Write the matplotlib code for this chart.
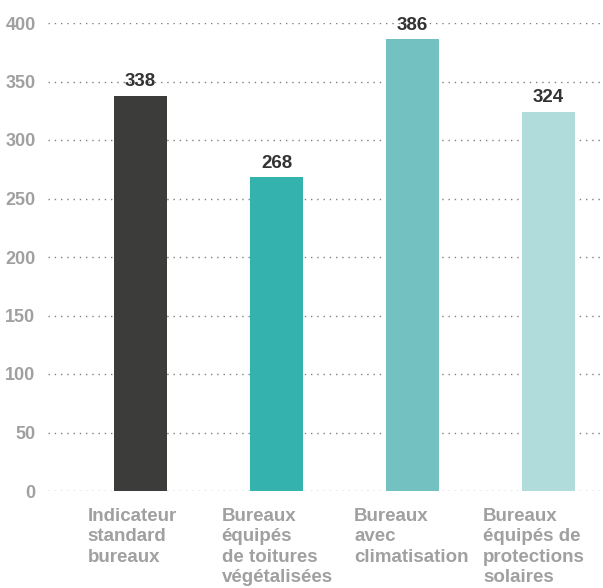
import matplotlib
matplotlib.use("Agg")
import matplotlib.pyplot as plt
from matplotlib.transforms import ScaledTranslation, blended_transform_factory

categories = [
    "Indicateur\nstandard\nbureaux",
    "Bureaux\néquipés\nde toitures\nvégétalisées",
    "Bureaux\navec\nclimatisation",
    "Bureaux\néquipés de\nprotections\nsolaires",
]
values = [338, 268, 386, 324]
colors = ["#3c3c3b", "#33b2ae", "#74c1c1", "#b0dcdb"]
yticks = [0, 50, 100, 150, 200, 250, 300, 350, 400]

plt.rcParams["font.family"] = ["Liberation Sans", "DejaVu Sans"]
plt.rcParams["font.weight"] = "bold"

DPI = 100
fig = plt.figure(figsize=(6.03, 5.88), dpi=DPI)
ax = fig.add_axes([48 / 603, (588 - 491) / 588, 1 - 48 / 603, (491 - 23) / 588])

x = list(range(len(values)))
ax.bar(x, values, width=0.385, color=colors, zorder=3)

for xi, v in zip(x, values):
    ax.text(xi, v + 5, str(v), ha="center", va="bottom", fontsize=13.5,
            fontweight="bold", color="#333333", clip_on=False, zorder=4)

ax.set_xlim(-0.68, 3.40)
ax.set_ylim(0, 400)
ax.set_yticks(yticks)
ax.set_yticklabels([str(t) for t in yticks])
ax.set_xticks(x)
ax.set_xticklabels([])

# category labels: left-aligned blocks hanging below each bar
label_shift_px = [-53, -55, -58.5, -65.5]
base = blended_transform_factory(ax.transData, ax.transAxes)
for xi, txt, dx in zip(x, categories, label_shift_px):
    tr = base + ScaledTranslation(dx / DPI, -17 / DPI, fig.dpi_scale_trans)
    ax.text(xi, 0, txt, transform=tr, ha="left", va="top", fontsize=13.5,
            fontweight="bold", color="#a0a0a0", linespacing=1.26, clip_on=False)

ax.tick_params(axis="y", length=0, pad=9, labelsize=13, labelcolor="#a0a0a0")
ax.tick_params(axis="x", length=0)

ax.grid(axis="y", linestyle=(0, (1, 3.5)), color="#808080", linewidth=1.0, zorder=0)
ax.grid(axis="x", visible=False)
for s in ax.spines.values():
    s.set_visible(False)

fig.savefig("out.png", dpi=DPI)
